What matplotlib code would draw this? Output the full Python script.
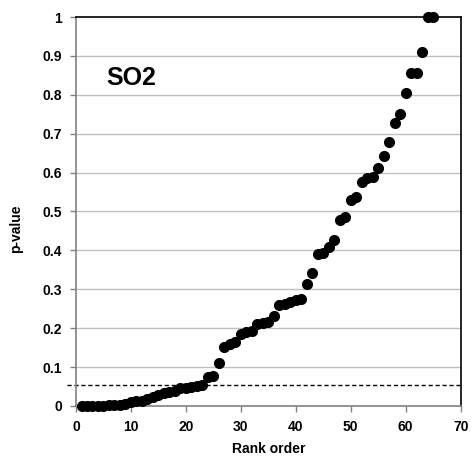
import matplotlib
matplotlib.use("Agg")
import matplotlib.pyplot as plt
from matplotlib.ticker import FuncFormatter

# ── data ─────────────────────────────────────────────────────────────────────
rank = list(range(1, 66))
p_value = [
    0.000, 0.000, 0.001, 0.001, 0.001, 0.002, 0.002, 0.003, 0.006, 0.009,
    0.012, 0.014, 0.018, 0.024, 0.028, 0.033, 0.035, 0.038, 0.045, 0.047,
    0.050, 0.052, 0.053, 0.075, 0.077, 0.110, 0.152, 0.159, 0.165, 0.185,
    0.191, 0.193, 0.211, 0.214, 0.217, 0.231, 0.259, 0.262, 0.267, 0.273,
    0.275, 0.314, 0.343, 0.391, 0.393, 0.408, 0.428, 0.478, 0.487, 0.530,
    0.538, 0.577, 0.585, 0.588, 0.613, 0.643, 0.678, 0.728, 0.751, 0.805,
    0.855, 0.857, 0.910, 1.000, 1.000,
]
threshold = 0.054
x_ticks = [0, 10, 20, 30, 40, 50, 60, 70]
y_ticks = [0, 0.1, 0.2, 0.3, 0.4, 0.5, 0.6, 0.7, 0.8, 0.9, 1.0]

plt.rcParams["font.family"] = ["Liberation Sans", "DejaVu Sans"]
plt.rcParams["font.weight"] = "bold"

fig = plt.figure(figsize=(4.73, 4.57), dpi=100)
ax = fig.add_axes([0.1607, 0.1116, 0.974 - 0.1607, 0.9628 - 0.1116])

# light horizontal gridlines (Excel style)
for y in y_ticks[1:-1]:
    ax.axhline(y, color="#c0c0c0", linewidth=1.0, zorder=1)

# significance threshold, sticking out a little past the y axis
ax.plot([-1.6, 70], [threshold, threshold], color="black", linestyle=(0, (3, 2)),
        linewidth=1.0, clip_on=False, zorder=2)

ax.plot(rank, p_value, "o", color="black", markersize=7, zorder=3, clip_on=False)

ax.set_xlim(0, 70)
ax.set_ylim(0, 1)
ax.set_xticks(x_ticks)
ax.set_yticks(y_ticks)
ax.yaxis.set_major_formatter(FuncFormatter(lambda v, _: f"{v:g}"))
ax.tick_params(axis="both", direction="out", length=4, width=1, color="#808080",
               labelsize=10, pad=6)
for lab in ax.get_xticklabels() + ax.get_yticklabels():
    lab.set_fontweight("bold")

for side in ("left", "bottom"):
    ax.spines[side].set_color("#808080")
    ax.spines[side].set_linewidth(1.2)
for side in ("top", "right"):
    ax.spines[side].set_color("black")
    ax.spines[side].set_linewidth(1.2)

ax.set_xlabel("Rank order", fontsize=10, fontweight="bold", labelpad=6)
ax.set_ylabel("p-value", fontsize=10, fontweight="bold")
ax.yaxis.set_label_coords(-0.138, 0.455)

ax.text(10.1, 0.843, "SO2", fontsize=18, fontweight="bold", ha="center", va="center")

fig.savefig("out.png", dpi=100)
